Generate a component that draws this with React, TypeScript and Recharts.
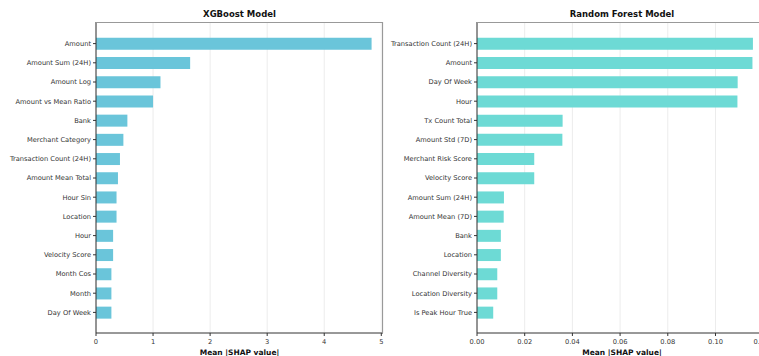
import { BarChart, Bar, XAxis, YAxis, CartesianGrid } from "recharts"

const xgbFeatures = [
  "Amount",
  "Amount Sum (24H)",
  "Amount Log",
  "Amount vs Mean Ratio",
  "Bank",
  "Merchant Category",
  "Transaction Count (24H)",
  "Amount Mean Total",
  "Hour Sin",
  "Location",
  "Hour",
  "Velocity Score",
  "Month Cos",
  "Month",
  "Day Of Week",
]
const xgbValues = [4.83, 1.65, 1.13, 1.0, 0.55, 0.48, 0.42, 0.385, 0.36, 0.36, 0.3, 0.3, 0.27, 0.27, 0.27]
const xgbTicks = [0, 1, 2, 3, 4, 5]

const rfFeatures = [
  "Transaction Count (24H)",
  "Amount",
  "Day Of Week",
  "Hour",
  "Tx Count Total",
  "Amount Std (7D)",
  "Merchant Risk Score",
  "Velocity Score",
  "Amount Sum (24H)",
  "Amount Mean (7D)",
  "Bank",
  "Location",
  "Channel Diversity",
  "Location Diversity",
  "Is Peak Hour True",
]
const rfValues = [0.1157, 0.1155, 0.1093, 0.1092, 0.0359, 0.0358, 0.024, 0.024, 0.0113, 0.0112, 0.01, 0.01, 0.0085, 0.0085, 0.0068]
const rfTicks = [0, 0.02, 0.04, 0.06, 0.08, 0.1, 0.12]

const font = "'DejaVu Sans', sans-serif"

function CatTick(props: any) {
  const { x, y, payload } = props
  return (
    <text x={x} y={y} dy={2.3} textAnchor="end" fontSize={6.7} fill="#333" fontFamily={font}>
      {payload.value}
    </text>
  )
}

type PanelProps = {
  title: string
  features: string[]
  values: number[]
  ticks: number[]
  domainMax: number
  color: string
  left: number
  axisWidth: number
  plotWidth: number
  fmt: (v: number) => string
}

function Panel({ title, features, values, ticks, domainMax, color, left, axisWidth, plotWidth, fmt }: PanelProps) {
  const data = features.map((name, i) => ({ name, value: values[i] }))
  const top = 22
  const plotH = 311
  const width = axisWidth + plotWidth + 8

  const NumTick = (props: any) => {
    const { x, y, payload } = props
    return (
      <text x={x} y={y} dy={6} textAnchor="middle" fontSize={6.7} fill="#333" fontFamily={font}>
        {fmt(payload.value)}
      </text>
    )
  }

  return (
    <div style={{ position: "absolute", left, top: 0, width, height: 356 }}>
      <div
        style={{
          position: "absolute",
          left: axisWidth,
          width: plotWidth,
          top: 9,
          textAlign: "center",
          fontFamily: font,
          fontWeight: "bold",
          fontSize: 8.5,
          color: "#111",
        }}
      >
        {title}
      </div>
      <BarChart
        width={width}
        height={356}
        data={data}
        layout="vertical"
        margin={{ top, right: 8, left: 0, bottom: 0 }}
        barCategoryGap="20%"
      >
        <CartesianGrid horizontal={false} stroke="#ececec" />
        <XAxis
          type="number"
          domain={[0, domainMax]}
          ticks={ticks}
          allowDataOverflow
          height={356 - top - plotH}
          tick={<NumTick />}
          tickSize={3}
          tickMargin={2}
          axisLine={{ stroke: "#333" }}
          tickLine={{ stroke: "#333" }}
          label={{
            value: "Mean |SHAP value|",
            position: "insideBottom",
            offset: 1,
            style: { fontSize: 7.5, fontWeight: "bold", fill: "#111", fontFamily: font },
          }}
        />
        <YAxis
          type="category"
          dataKey="name"
          width={axisWidth}
          padding={{ top: 12, bottom: 11 }}
          tick={<CatTick />}
          tickSize={3}
          tickMargin={2}
          axisLine={{ stroke: "#333" }}
          tickLine={{ stroke: "#333" }}
          interval={0}
        />
        <Bar dataKey="value" fill={color} isAnimationActive={false} />
      </BarChart>
      <div
        style={{
          position: "absolute",
          left: axisWidth,
          top,
          width: plotWidth,
          height: plotH,
          borderTop: "1px solid #999",
          borderRight: "1px solid #999",
          boxSizing: "border-box",
          pointerEvents: "none",
        }}
      />
    </div>
  )
}

export default function App() {
  return (
    <div
      style={{
        position: "absolute",
        left: 0,
        top: 0,
        width: 759,
        height: 356,
        overflow: "hidden",
        background: "#fff",
      }}
    >
      <Panel
        title="XGBoost Model"
        features={xgbFeatures}
        values={xgbValues}
        ticks={xgbTicks}
        domainMax={5.03}
        color="#6AC5DA"
        left={0}
        axisWidth={96}
        plotWidth={287}
        fmt={(v) => String(v)}
      />
      <Panel
        title="Random Forest Model"
        features={rfFeatures}
        values={rfValues}
        ticks={rfTicks}
        domainMax={0.1216}
        color="#6DDAD5"
        left={383}
        axisWidth={94}
        plotWidth={290}
        fmt={(v) => v.toFixed(2)}
      />
    </div>
  )
}
